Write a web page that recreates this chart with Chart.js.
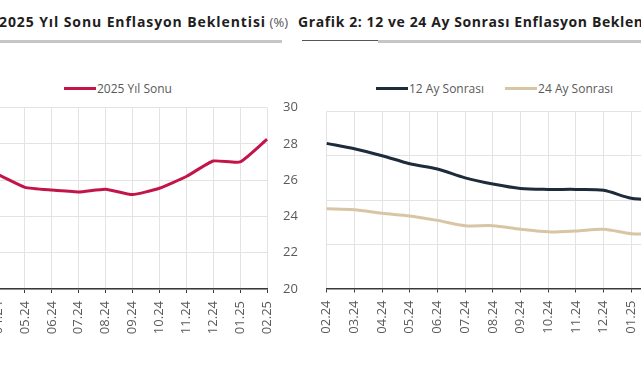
<!DOCTYPE html>
<html>
<head>
<meta charset="utf-8">
<script src="https://cdn.jsdelivr.net/npm/chart.js@4.4.1/dist/chart.umd.min.js"></script>
<style>
  body { margin: 0; width: 641px; height: 380px; overflow: hidden; background: #fff; position: relative; font-family: "Open Sans", sans-serif; }
  canvas { position: absolute; top: 0; }
  .title { position: absolute; top: 12px; font-size: 14px; line-height: 20px; white-space: nowrap; color: #1e1e1e; }
  .title b { font-weight: 700; letter-spacing: 0.6px; }
  .title span { color: #555; font-size: 13px; }
  .rule { position: absolute; top: 40px; }
  .legend { position: absolute; top: 81px; height: 16px; line-height: 16px; font-size: 12px; color: #595959; white-space: nowrap; }
  .legend i { display: inline-block; width: 32px; height: 3px; vertical-align: middle; margin-right: 1px; margin-top: -2px; }
</style>
</head>
<body>
<div class="title" style="right:353px"><b style="letter-spacing:0.9px">Grafik 1: 2025 Yıl Sonu Enflasyon Beklentisi</b> <span>(%)</span></div>
<div class="title" style="left:298px"><b>Grafik 2: 12 ve 24 Ay Sonrası Enflasyon Beklentisi</b> <span>(%)</span></div>
<div class="rule" style="left:0;width:282px;height:3px;background:#c6c6c6"></div>
<div class="rule" style="left:302px;width:76px;height:1px;background:#555"></div>
<div class="rule" style="left:378px;width:263px;height:3px;background:#c6c6c6"></div>

<div class="legend" style="left:64px"><i style="background:#c2164b"></i>2025 Yıl Sonu</div>
<div class="legend" style="left:376px"><i style="background:#1d2b3a"></i>12 Ay Sonrası<i style="background:#d9c5a5;margin-left:21px"></i>24 Ay Sonrası</div>

<canvas id="chart1" width="375" height="380" style="left:-68px"></canvas>
<canvas id="chart2" width="384" height="380" style="left:315px"></canvas>

<script>
const months = ['02.24', '03.24', '04.24', '05.24', '06.24', '07.24', '08.24', '09.24', '10.24', '11.24', '12.24', '01.25', '02.25'];
const yearEnd2025 = [27.0, 26.8, 26.3, 25.6, 25.45, 25.35, 25.5, 25.2, 25.55, 26.2, 27.05, 27.0, 28.25];
const after12m = [28.2, 27.9, 27.5, 27.05, 26.75, 26.25, 25.9, 25.65, 25.6, 25.6, 25.55, 25.1, 25.0];
const after24m = [24.5, 24.45, 24.25, 24.1, 23.85, 23.55, 23.55, 23.35, 23.2, 23.25, 23.35, 23.1, 23.1];
const leftTicks = [20, 22, 24, 26, 28, 30];
const rightTicks = [20, 22.5, 25, 27.5, 30];

const FONT = 'Open Sans';
const GRID = '#e3e3e3';
const AXIS = '#3a3a3a';
const TEXT = '#595959';

const xAxis = {
  offset: false,
  grid: { color: GRID, tickColor: AXIS, tickLength: 4 },
  border: { color: AXIS, width: 1.5 },
  ticks: { minRotation: 90, maxRotation: 90, autoSkip: false, padding: 8, color: TEXT, font: { family: FONT, size: 13 } },
  afterFit: (s) => { s.height = 60; }
};

const yAxis = (tickValues) => ({
  position: 'right',
  min: tickValues[0],
  max: tickValues[tickValues.length - 1],
  afterBuildTicks: (s) => { s.ticks = tickValues.map(v => ({ value: v })); },
  grid: { color: GRID, drawTicks: false },
  border: { display: false },
  ticks: { padding: 16, color: TEXT, font: { family: FONT, size: 13 } },
  afterFit: (s) => { s.width = 40; }
});

new Chart(document.getElementById('chart1'), {
  type: 'line',
  data: {
    labels: months,
    datasets: [{
      label: '2025 Yıl Sonu',
      data: yearEnd2025,
      borderColor: '#c2164b',
      borderWidth: 3,
      pointRadius: 0,
      tension: 0.15,
    }],
  },
  options: {
    responsive: false,
    animation: false,
    layout: { padding: { left: 12.3, top: 107.5, right: 0, bottom: 31 } },
    plugins: { legend: { display: false }, tooltip: { enabled: false } },
    scales: { x: xAxis, y: yAxis(leftTicks) },
  },
});

new Chart(document.getElementById('chart2'), {
  type: 'line',
  data: {
    labels: months,
    datasets: [{
      label: '12 Ay Sonrası',
      data: after12m,
      borderColor: '#1d2b3a',
      borderWidth: 3,
      pointRadius: 0,
      tension: 0.3,
    }, {
      label: '24 Ay Sonrası',
      data: after24m,
      borderColor: '#d9c5a5',
      borderWidth: 3,
      pointRadius: 0,
      tension: 0.3,
    }],
  },
  options: {
    responsive: false,
    animation: false,
    layout: { padding: { left: 11.7, top: 111.5, right: 0, bottom: 31.5 } },
    plugins: { legend: { display: false }, tooltip: { enabled: false } },
    scales: { x: xAxis, y: yAxis(rightTicks) },
  },
});
</script>
</body>
</html>
